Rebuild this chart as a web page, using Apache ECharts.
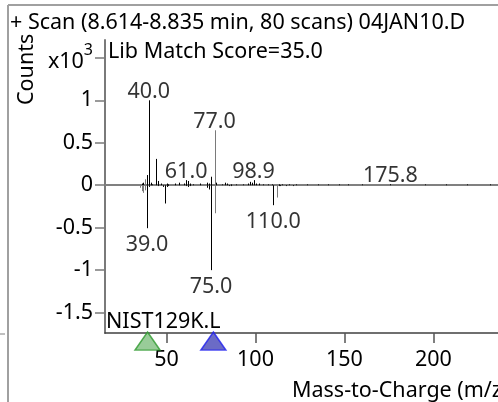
<!DOCTYPE html>
<html><head><meta charset="utf-8">
<script src="https://cdn.jsdelivr.net/npm/echarts@6/dist/echarts.min.js"></script>
<style>html,body{margin:0;padding:0;background:#fff}#c{width:498px;height:402px}</style>
</head><body><div id="c"></div>
<script>
// ---- texts ----
const titleText = '+ Scan (8.614-8.835 min, 80 scans) 04JAN10.D';
const scoreText = 'Lib Match Score=35.0';
const libText = 'NIST129K.L';
const yName = 'Counts';
const xName = 'Mass-to-Charge (m/z)';
// ---- ticks ----
const xTicks = [50, 100, 150, 200];
const yTicks = [-1.5, -1, -0.5, 0, 0.5, 1, 1.5];
const xRange = [15.4, 236.3];
const yRange = [-1.74, 1.71];
// ---- sample spectrum (upper, x10^3 counts) ----
const sampleMz  = [36,37,39,40,41,42,44,45,47,50,51,55,57,60,61,62,63,65,69,73,74,75,78,81,83,84,86,89,93,96,97,98,99,100,102,104,107,109,113,115,119,123,129,135,141,147,152,160,175.8,195,207,219,232];
const sampleVal = [0.02,0.03,0.12,1.0,0.03,0.01,0.31,0.05,0.02,0.02,0.01,0.02,0.03,0.02,0.06,0.05,0.02,0.01,0.02,0.03,0.02,0.10,0.03,0.01,0.03,0.02,0.01,0.01,0.01,0.02,0.04,0.03,0.06,0.02,0.02,0.01,0.01,0.01,0.01,0.01,0.01,0.01,0.01,0.01,0.01,0.01,0.01,0.01,0.012,0.01,0.01,0.01,0.01];
const sampleGrayMz  = [38, 77];
const sampleGrayVal = [0.07, 0.647];
// ---- library spectrum (lower, mirrored) ----
const libMz  = [39,40,45,48,49,50,51,61,62,63,73,74,75,85,86,110,113,114,117,121];
const libVal = [-0.506,-0.02,-0.01,-0.02,-0.215,-0.02,-0.01,-0.01,-0.02,-0.01,-0.03,-0.05,-1.0,-0.01,-0.01,-0.235,-0.01,-0.01,-0.01,-0.01];
const libGrayMz  = [35,36,37,38,77,112];
const libGrayVal = [-0.03,-0.07,-0.09,-0.06,-0.33,-0.145];
// ---- annotated peaks ----
const labelMz  = [40.0, 77.0, 61.0, 98.9, 175.8, 39.0, 75.0, 110.0];
const labelVal = [1.0, 0.647, 0.06, 0.06, 0.012, -0.506, -1.0, -0.235];
// ---- markers under axis ----
const markerMz = [39.3, 76.3];
const markerVal = [-1.835, -1.835];

const FONT = 'Noto Sans';
const FS = 21.5;
const zip = (a, b) => a.map((v, i) => [v, b[i]]);

function stem(params, api) {
  const x = api.value(0), y = api.value(1);
  const p0 = api.coord([x, 0]), p1 = api.coord([x, y]);
  const px = Math.round(p0[0]) + 0.5;
  return { type: 'line', shape: { x1: px, y1: p0[1], x2: px, y2: p1[1] },
           style: { stroke: api.visual('color'), lineWidth: 1 } };
}

const chart = echarts.init(document.getElementById('c'), null, { renderer: 'canvas' });
chart.setOption({
  animation: false,
  backgroundColor: '#fff',
  textStyle: { fontFamily: FONT },
  grid: { left: 105, right: 0, top: 40, bottom: 69, containLabel: false },
  xAxis: {
    type: 'value', min: xRange[0], max: xRange[1],
    axisLine: { onZero: false, lineStyle: { color: '#404040', width: 1.5 } },
    axisTick: { customValues: xTicks, length: 10, lineStyle: { color: '#555', width: 1.5 } },
    axisLabel: { customValues: xTicks, color: '#000', fontFamily: FONT, fontSize: FS, margin: 16 },
    splitLine: { show: false }
  },
  yAxis: {
    type: 'value', min: yRange[0], max: yRange[1],
    axisLine: { show: true, lineStyle: { color: '#7a7a7a', width: 2 } },
    axisTick: { customValues: yTicks, length: 10, lineStyle: { color: '#7a7a7a', width: 1.5 } },
    axisLabel: {
      customValues: yTicks, color: '#000', fontFamily: FONT, fontSize: FS, margin: 12,
      formatter: v => v === 1.5 ? '{a|x10}{s|3}' : String(v),
      rich: {
        a: { fontFamily: FONT, fontSize: FS, color: '#000', verticalAlign: 'bottom', lineHeight: 30 },
        s: { fontFamily: FONT, fontSize: 16, color: '#000', verticalAlign: 'top', lineHeight: 28 }
      }
    },
    splitLine: { show: false }
  },
  series: [
    { type: 'custom', name: 'sample', renderItem: stem, data: zip(sampleMz, sampleVal),
      itemStyle: { color: '#000' }, clip: true, z: 3,
      markLine: { silent: true, symbol: 'none', label: { show: false },
        lineStyle: { color: '#808080', width: 2, type: 'solid' }, data: [{ yAxis: 0 }], z: 2 } },
    { type: 'custom', name: 'sampleGray', renderItem: stem, data: zip(sampleGrayMz, sampleGrayVal),
      itemStyle: { color: '#7a7a7a' }, z: 3 },
    { type: 'custom', name: 'library', renderItem: stem, data: zip(libMz, libVal),
      itemStyle: { color: '#000' }, z: 3 },
    { type: 'custom', name: 'libraryGray', renderItem: stem, data: zip(libGrayMz, libGrayVal),
      itemStyle: { color: '#7a7a7a' }, z: 3 },
    { type: 'scatter', name: 'labels', symbolSize: 0, z: 5,
      data: zip(labelMz, labelVal).map(d => ({ value: d,
        label: { position: d[1] >= 0 ? 'top' : 'bottom', distance: d[1] >= 0 ? -3 : 6 } })),
      label: { show: true, color: '#000', fontFamily: FONT, fontSize: FS,
               formatter: p => p.value[0].toFixed(1) } },
    { type: 'scatter', name: 'markers', symbol: 'triangle', symbolSize: [25, 18], clip: false, z: 6,
      data: [
        { value: [markerMz[0], markerVal[0]], itemStyle: { color: '#7fbf7f', borderColor: '#2e9a2e', borderWidth: 1.5 } },
        { value: [markerMz[1], markerVal[1]], itemStyle: { color: '#4646b8', borderColor: '#2020f0', borderWidth: 1.5 } }
      ] }
  ],
  graphic: [
    { type: 'line', shape: { x1: 8, y1: 5, x2: 498, y2: 5 }, style: { stroke: '#a0a0a0', lineWidth: 2 } },
    { type: 'line', shape: { x1: 8, y1: 5, x2: 8, y2: 402 }, style: { stroke: '#a0a0a0', lineWidth: 2 } },
    { type: 'line', shape: { x1: 0, y1: 334, x2: 5, y2: 334 }, style: { stroke: '#808080', lineWidth: 1 } },
    { type: 'text', left: 10, top: 12, style: { text: titleText, font: FS + 'px "' + FONT + '"', fill: '#000' } },
    { type: 'text', left: 108, top: 41, style: { text: scoreText, font: FS + 'px "' + FONT + '"', fill: '#000' } },
    { type: 'text', left: 106, top: 311, style: { text: libText, font: FS + 'px "' + FONT + '"', fill: '#000' } },
    { type: 'text', x: 16, y: 105, rotation: Math.PI / 2, style: { text: yName, font: FS + 'px "' + FONT + '"', fill: '#000' } },
    { type: 'text', x: 292, y: 380, style: { text: xName, font: FS + 'px "' + FONT + '"', fill: '#000' } }
  ]
});
</script></body></html>
